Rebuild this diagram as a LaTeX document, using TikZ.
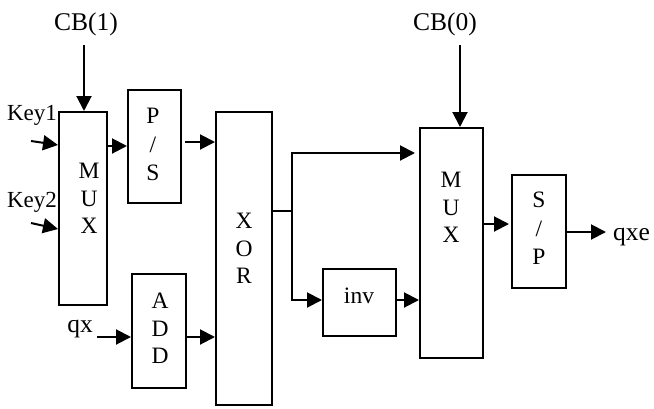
\documentclass[tikz,border=0pt]{standalone}
\usepackage{fontspec}
\setmainfont{Liberation Serif}
\usetikzlibrary{arrows.meta,calc}
\begin{document}
\begin{tikzpicture}[x=1pt,y=-1pt,
  blk/.style={draw,line width=2pt,inner sep=0pt},
  lbl/.style={inner sep=0pt,align=center,font=\fontsize{23.5}{27.5}\selectfont},
  big/.style={lbl,font=\fontsize{25.5}{30}\selectfont},
  keylbl/.style={lbl,font=\fontsize{23}{26}\selectfont},
  arr/.style={line width=2pt,-{Triangle[length=15pt,width=15pt]}},
  wire/.style={line width=2pt}]
\useasboundingbox (0,0) rectangle (654,408);
% boxes
\node[blk,minimum width=48pt,minimum height=193pt] (mux1) at (83,208.5) {};
\node[blk,minimum width=53pt,minimum height=113pt] (ps) at (154.5,146.5) {};
\node[blk,minimum width=56pt,minimum height=293pt] (xor) at (244,258.5) {};
\node[blk,minimum width=54pt,minimum height=114pt] (add) at (159,331) {};
\node[blk,minimum width=73pt,minimum height=67pt] (inv) at (359.5,302.5) {};
\node[blk,minimum width=63pt,minimum height=230pt] (mux2) at (451.5,243) {};
\node[blk,minimum width=54pt,minimum height=113pt] (sp) at (539,231.5) {};
% box texts
\node[lbl,anchor=north] (tmux1) at (89,163) {M\\U\\X};
\node[lbl,anchor=north,font=\fontsize{23.5}{28.5}\selectfont] (tps) at (153,108) {P\\/\\S};
\node[lbl,anchor=north] (txor) at (244,213) {X\\O\\R};
\node[lbl,anchor=north] (tadd) at (160,293) {A\\D\\D};
\node[lbl,anchor=north] (tmux2) at (451,172) {M\\U\\X};
\node[lbl,anchor=north,font=\fontsize{23.5}{28.5}\selectfont] (tsp) at (539,192) {S\\/\\P};
\node[lbl,anchor=base] (tinv) at (359,303) {inv};
% outer texts
\node[big,anchor=base] (cb1) at (86,30) {CB(1)};
\node[big,anchor=base] (cb0) at (445,30) {CB(0)};
\node[keylbl,anchor=base] (key1) at (32,120) {Key1};
\node[keylbl,anchor=base] (key2) at (32,207) {Key2};
\node[big,anchor=base] (qx) at (80,332) {qx};
\node[big,anchor=base west] (qxe) at (613,240) {qxe};
% helper coordinates
\coordinate (cb1s) at (84,45);
\coordinate (cb0s) at (460,45);
\coordinate (k1s) at (31,141);
\coordinate (k2s) at (31,223);
\coordinate (qxs) at (97,337);
\coordinate (pss) at (185,142);
\coordinate (split) at (292,211);
\coordinate (qxee) at (606,232);
% connectors
\draw[arr] (cb1s) -- (cb1s |- mux1.north);
\draw[arr] (cb0s) -- (cb0s |- mux2.north);
\draw[arr] (k1s) -- (mux1.west |- 0,145);
\draw[arr] (k2s) -- (mux1.west |- 0,229);
\draw[arr] (mux1.east |- 0,146) -- (ps.west |- 0,146);
\draw[arr] (pss) -- (xor.west |- pss);
\draw[arr] (qxs) -- (add.west |- qxs);
\draw[arr] (add.east |- qxs) -- (xor.west |- qxs);
\draw[wire] (xor.east |- split) -- (split);
\draw[arr,shorten >=4pt] (split) |- (mux2.west |- 0,153);
\draw[arr] (split) |- (inv.west |- 0,300);
\draw[arr] (inv.east |- 0,300) -- (mux2.west |- 0,300);
\draw[arr,shorten >=2pt] (mux2.east |- 0,224) -- (sp.west |- 0,224);
\draw[arr] (sp.east |- qxee) -- (qxee);
\end{tikzpicture}
\end{document}
